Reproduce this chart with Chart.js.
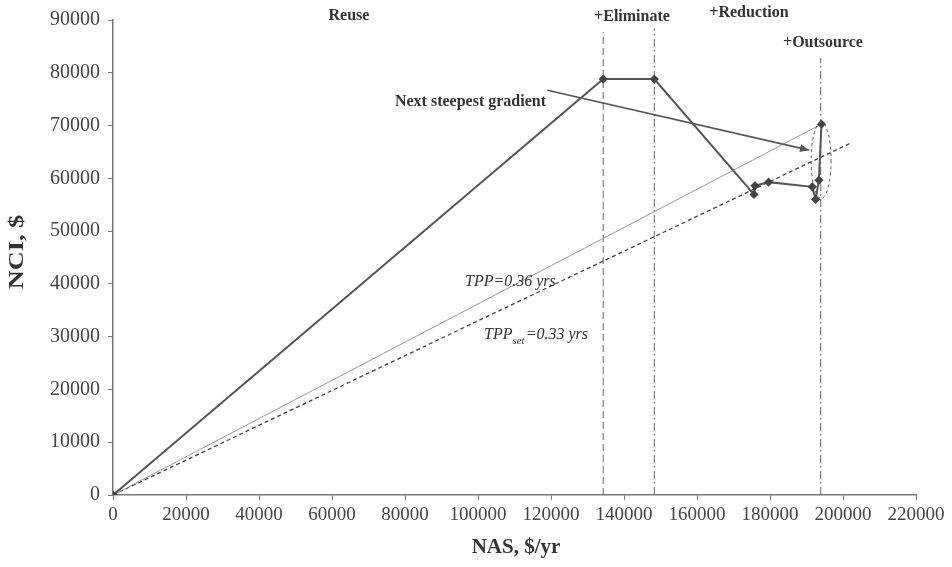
<!DOCTYPE html>
<html>
<head>
<meta charset="utf-8">
<script src="https://cdn.jsdelivr.net/npm/chart.js@4/dist/chart.umd.min.js"></script>
<style>
html,body{margin:0;padding:0;background:#fff;}
#wrap{width:952px;height:567px;position:relative;}
</style>
</head>
<body>
<div id="wrap"><canvas id="c" width="952" height="567"></canvas></div>
<script>
// ---- data ----
const nas = [0, 134300, 148300, 175600, 175900, 179600, 191600, 192500, 193400, 194100];
const nci = [0, 78800, 78800, 56950, 58580, 59280, 58390, 56000, 59660, 70270];
const tppX = [0, 194100];
const tppY = [0, 70270];
const tppSetX = [0, 202000];
const tppSetY = [0, 66660];
const stageX = [134300, 148300, 193900];
const stageTop = [87700, 88400, 82800];
const stageNames = ["Reuse", "+Eliminate", "+Reduction", "+Outsource"];
const xTicks = [0,20000,40000,60000,80000,100000,120000,140000,160000,180000,200000,220000];
const yTicks = [0,10000,20000,30000,40000,50000,60000,70000,80000,90000];

const pts = (xs, ys) => xs.map((x,i)=>({x:x, y:ys[i]}));
const serif = "'Liberation Serif','DejaVu Serif',serif";

const vDatasets = stageX.map((x,i)=>({
  data: [{x:x,y:0},{x:x,y:stageTop[i]}],
  showLine:true, borderColor:'#666', borderWidth:1,
  borderDash: i===0 ? [7,4] : [8,3,2,3], pointRadius:0, order:5
}));

const overlay = {
  id:'overlay',
  afterDatasetsDraw(chart){
    const {ctx, scales:{x,y}} = chart;
    ctx.save();
    // stage labels
    ctx.fillStyle = '#333';
    ctx.font = "bold 16px " + serif;
    ctx.textAlign = 'center';
    ctx.textBaseline = 'middle';
    ctx.fillText(stageNames[0], 349, 16);
    ctx.fillText(stageNames[1], 632, 17);
    ctx.fillText(stageNames[2], 749, 13);
    ctx.fillText(stageNames[3], 823, 43);
    // arrow annotation
    ctx.textAlign = 'right';
    ctx.fillText("Next steepest gradient", 546, 102);
    const ax0 = x.getPixelForValue(119000), ay0 = y.getPixelForValue(76700);
    const ax1 = x.getPixelForValue(190700), ay1 = y.getPixelForValue(65340);
    ctx.strokeStyle = '#555'; ctx.lineWidth = 1.6;
    ctx.beginPath(); ctx.moveTo(ax0, ay0); ctx.lineTo(ax1, ay1); ctx.stroke();
    const ang = Math.atan2(ay1-ay0, ax1-ax0);
    ctx.fillStyle = '#555';
    ctx.beginPath();
    ctx.moveTo(ax1, ay1);
    ctx.lineTo(ax1 - 9*Math.cos(ang) + 4*Math.sin(ang), ay1 - 9*Math.sin(ang) - 4*Math.cos(ang));
    ctx.lineTo(ax1 - 9*Math.cos(ang) - 4*Math.sin(ang), ay1 - 9*Math.sin(ang) + 4*Math.cos(ang));
    ctx.closePath(); ctx.fill();
    // dashed lens around final move
    ctx.setLineDash([3,3]); ctx.lineWidth = 1; ctx.strokeStyle = '#555';
    const cx = x.getPixelForValue(194000), cy = y.getPixelForValue(63400);
    ctx.beginPath(); ctx.ellipse(cx, cy, 10, 38, 0, 0, Math.PI*2); ctx.stroke();
    ctx.setLineDash([]);
    // TPP labels
    ctx.fillStyle = '#333';
    ctx.font = "italic 16px " + serif;
    ctx.textAlign = 'left';
    ctx.fillText("TPP=0.36 yrs", 465, 282);
    ctx.fillText("TPP", 484, 335);
    let w = ctx.measureText("TPP").width;
    ctx.font = "italic 11px " + serif;
    ctx.fillText("set", 484 + w, 341);
    let w2 = ctx.measureText("set").width;
    ctx.font = "italic 16px " + serif;
    ctx.fillText("=0.33 yrs", 485 + w + w2, 335);
    // axis titles
    ctx.fillStyle = '#333';
    ctx.font = "bold 21px " + serif;
    ctx.textAlign = 'center';
    ctx.fillText("NAS, $/yr", 516, 548);
    ctx.translate(18, 252); ctx.rotate(-Math.PI/2); ctx.scale(1.25, 1);
    ctx.fillText("NCI, $", 0, 0);
    ctx.restore();
  }
};

new Chart(document.getElementById('c'), {
  type:'scatter',
  data:{ datasets:[
    { data: pts(nas,nci), showLine:true, borderColor:'#555', borderWidth:2,
      pointStyle:'rectRot', pointRadius:3.2, pointBackgroundColor:'#444', pointBorderColor:'#444', order:1 },
    { data: pts(tppX,tppY), showLine:true, borderColor:'#999', borderWidth:1, pointRadius:0, order:2 },
    { data: pts(tppSetX,tppSetY), showLine:true, borderColor:'#444', borderWidth:1.3, borderDash:[4,3], pointRadius:0, order:3 },
    ...vDatasets
  ]},
  options:{
    responsive:false, animation:false,
    layout:{ padding:{ left:0, right:36, top:20, bottom:0 } },
    plugins:{ legend:{display:false}, tooltip:{enabled:false} },
    scales:{
      x:{ type:'linear', min:0, max:220000,
        afterBuildTicks(s){ s.ticks = xTicks.map(v=>({value:v})); },
        afterFit(s){ s.height = 72; },
        grid:{ drawOnChartArea:false, drawTicks:true, tickLength:5, color:'#777' },
        border:{ color:'#777', width:1.5 },
        ticks:{ font:{family:serif, size:19}, color:'#444', padding:4, maxRotation:0, autoSkip:false,
          callback:(v)=>String(v) }
      },
      y:{ type:'linear', min:0, max:90000,
        afterBuildTicks(s){ s.ticks = yTicks.map(v=>({value:v})); },
        afterFit(s){ s.width = 113; },
        grid:{ drawOnChartArea:false, drawTicks:true, tickLength:5, color:'#777' },
        border:{ color:'#777', width:1.5 },
        ticks:{ font:{family:serif, size:20}, color:'#444', padding:8,
          callback:(v)=>String(v) }
      }
    }
  },
  plugins:[overlay]
});
</script>
</body>
</html>
